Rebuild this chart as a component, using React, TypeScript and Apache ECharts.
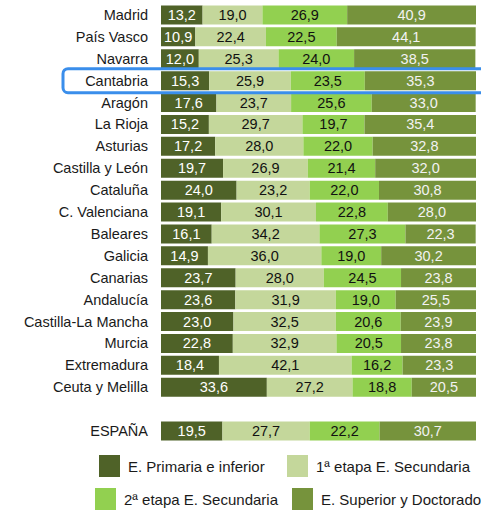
import React, { useEffect, useRef } from "react";
import * as echarts from "echarts";

const regions = [
  "Madrid", "País Vasco", "Navarra", "Cantabria", "Aragón", "La Rioja", "Asturias",
  "Castilla y León", "Cataluña", "C. Valenciana", "Baleares", "Galicia", "Canarias",
  "Andalucía", "Castilla-La Mancha", "Murcia", "Extremadura", "Ceuta y Melilla", "", "ESPAÑA",
];
const primaria = [13.2, 10.9, 12.0, 15.3, 17.6, 15.2, 17.2, 19.7, 24.0, 19.1, 16.1, 14.9, 23.7, 23.6, 23.0, 22.8, 18.4, 33.6, null, 19.5];
const secundaria1 = [19.0, 22.4, 25.3, 25.9, 23.7, 29.7, 28.0, 26.9, 23.2, 30.1, 34.2, 36.0, 28.0, 31.9, 32.5, 32.9, 42.1, 27.2, null, 27.7];
const secundaria2 = [26.9, 22.5, 24.0, 23.5, 25.6, 19.7, 22.0, 21.4, 22.0, 22.8, 27.3, 19.0, 24.5, 19.0, 20.6, 20.5, 16.2, 18.8, null, 22.2];
const superior = [40.9, 44.1, 38.5, 35.3, 33.0, 35.4, 32.8, 32.0, 30.8, 28.0, 22.3, 30.2, 23.8, 25.5, 23.9, 23.8, 23.3, 20.5, null, 30.7];
const seriesNames = ["E. Primaria e inferior", "1ª etapa E. Secundaria", "2ª etapa E. Secundaria", "E. Superior y Doctorado"];
const colors = ["#4F6228", "#C4D79B", "#92D050", "#76933C"];
const labelColors = ["#ffffff", "#111111", "#111111", "#f2f2f2"];
const highlighted = "Cantabria";

const FONT = "Liberation Sans, Arial, sans-serif";

export default function App() {
  const ref = useRef<HTMLDivElement>(null);
  useEffect(() => {
    if (!ref.current) return;
    const chart = echarts.init(ref.current, undefined, { renderer: "svg" });
    const dataSets = [primaria, secundaria1, secundaria2, superior];
    const legendPos = [
      { left: 99, top: 455 },
      { left: 287, top: 455 },
      { left: 95, top: 488 },
      { left: 292, top: 488 },
    ];
    chart.setOption({
      animation: false,
      textStyle: { fontFamily: FONT },
      grid: { left: 161, right: 5, top: 4, height: 438, containLabel: false },
      xAxis: { type: "value", min: 0, max: 100, show: false },
      yAxis: {
        type: "category",
        data: regions,
        inverse: true,
        axisLine: { show: false },
        axisTick: { show: false },
        axisLabel: { color: "#1a1a1a", fontSize: 14.5, margin: 13, fontFamily: FONT },
      },
      legend: seriesNames.map((n, i) => ({
        data: [n],
        left: legendPos[i].left,
        top: legendPos[i].top,
        icon: "rect",
        itemWidth: 21,
        itemHeight: 22,
        padding: 0,
        selectedMode: false,
        textStyle: { fontSize: 15, color: "#1a1a1a", fontFamily: FONT, padding: [0, 0, 0, 3] },
      })),
      series: seriesNames.map((n, i) => ({
        name: n,
        type: "bar",
        stack: "total",
        barWidth: 19,
        data: dataSets[i],
        itemStyle: { color: colors[i] },
        label: {
          show: true,
          position: "inside",
          color: labelColors[i],
          fontSize: 14.5,
          fontFamily: FONT,
          formatter: (p: any) => (p.value == null ? "" : Number(p.value).toFixed(1).replace(".", ",")),
        },
      })),
    });
    const yc = chart.convertToPixel({ yAxisIndex: 0 }, highlighted) as number;
    chart.setOption({
      graphic: [
        {
          type: "rect",
          shape: { x: 63, y: yc - 12, width: 430, height: 24, r: 5 },
          style: { fill: "none", stroke: "#3A8EEB", lineWidth: 3 },
          z: 100,
        },
      ],
    });
    return () => chart.dispose();
  }, []);
  return <div ref={ref} style={{ width: 481, height: 510, position: "absolute", left: 0, top: 0 }} />;
}
